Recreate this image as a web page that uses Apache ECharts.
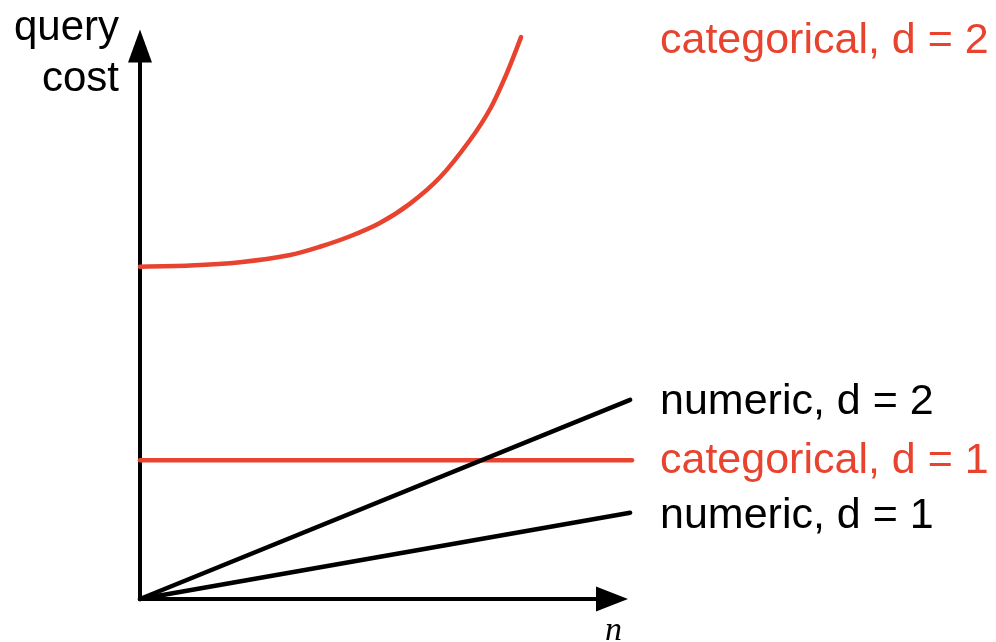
<!DOCTYPE html>
<html>
<head>
<meta charset="utf-8">
<style>
html,body{margin:0;padding:0;background:#fff;}
#chart{width:996px;height:642px;}
</style>
<script src="https://cdn.jsdelivr.net/npm/echarts@6/dist/echarts.min.js"></script>
</head>
<body>
<div id="chart"></div>
<script>
// Data (arbitrary units)
const categoricalD2 = [[0,60.1],[10.6,60.3],[21.2,60.9],[31.8,62.2],[38.1,63.7],[44.5,65.6],[50.8,68.0],[57.2,71.5],[63.6,76.3],[69.9,83.0],[74.2,88.7],[77.7,95.1],[80.7,101.6]];
const categoricalD1 = [[0,25.1],[104.2,25.1]];
const numericD2 = [[0,0],[103.8,36.0]];
const numericD1 = [[0,0],[103.8,15.6]];
const seriesLabels = ['categorical, d = 2','numeric, d = 2','categorical, d = 1','numeric, d = 1'];
const yAxisTitle = ['query','cost'];
const xAxisTitle = 'n';

const RED = '#e8432f';
const chart = echarts.init(document.getElementById('chart'));
const lineSeries = (data, color, smooth) => ({
  type: 'line', data: data, showSymbol: false, symbol: 'none', clip: false,
  xAxisIndex: 1, yAxisIndex: 1,
  smooth: smooth ? 0.3 : false, silent: true, animation: false,
  lineStyle: {color: color, width: 4.5, cap: 'round', join: 'round'}
});
const font = '"Liberation Sans", Arial, Helvetica, sans-serif';
const FS = '43px ';
const hidden = {show: false};
chart.setOption({
  animation: false,
  grid: [
    {left: 140, right: 384, top: 46, bottom: 43},
    {left: 140, right: 364, top: 46, bottom: 43}
  ],
  xAxis: [
    {gridIndex: 0, type: 'value', min: 0, max: 100,
      axisLine: {lineStyle: {color: '#000', width: 4}, symbol: ['none','triangle'], symbolSize: [25, 32]},
      axisTick: hidden, axisLabel: hidden, splitLine: hidden},
    {gridIndex: 1, type: 'value', min: 0, max: 104.2,
      axisLine: hidden, axisTick: hidden, axisLabel: hidden, splitLine: hidden}
  ],
  yAxis: [
    {gridIndex: 0, type: 'value', min: 0, max: 100,
      axisLine: {show: true, lineStyle: {color: '#000', width: 4}, symbol: ['none','triangle'], symbolSize: [24, 33]},
      axisTick: hidden, axisLabel: hidden, splitLine: hidden},
    {gridIndex: 1, type: 'value', min: 0, max: 100,
      axisLine: hidden, axisTick: hidden, axisLabel: hidden, splitLine: hidden}
  ],
  series: [
    lineSeries(categoricalD2, RED, true),
    lineSeries(categoricalD1, RED, false),
    lineSeries(numericD2, '#000', false),
    lineSeries(numericD1, '#000', false)
  ],
  graphic: [
    {type: 'text', right: 996 - 119, top: 7, silent: true,
      style: {text: yAxisTitle[0], fill: '#000', font: '42px ' + font}},
    {type: 'text', right: 996 - 119, top: 58, silent: true,
      style: {text: yAxisTitle[1], fill: '#000', font: '42px ' + font}},
    {type: 'text', left: 605, top: 614, silent: true,
      style: {text: xAxisTitle, fill: '#000', font: 'italic 34px "Liberation Serif", "Times New Roman", serif'}},
    {type: 'text', left: 660, top: 20, silent: true, style: {text: seriesLabels[0], fill: RED, font: FS + font}},
    {type: 'text', left: 660, top: 381, silent: true, style: {text: seriesLabels[1], fill: '#000', font: FS + font}},
    {type: 'text', left: 660, top: 440, silent: true, style: {text: seriesLabels[2], fill: RED, font: FS + font}},
    {type: 'text', left: 660, top: 495, silent: true, style: {text: seriesLabels[3], fill: '#000', font: FS + font}}
  ]
});
</script>
</body>
</html>
